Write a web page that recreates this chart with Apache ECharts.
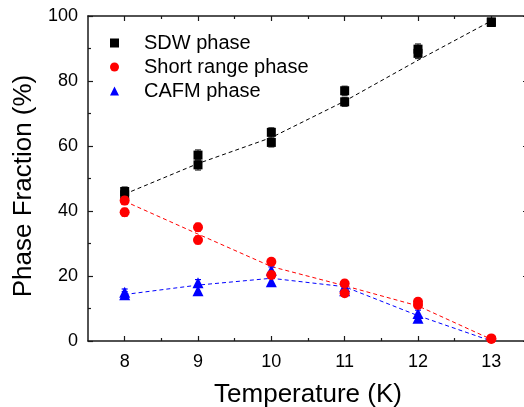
<!DOCTYPE html>
<html>
<head>
<meta charset="utf-8">
<script src="https://cdn.jsdelivr.net/npm/echarts@6/dist/echarts.min.js"></script>
<style>
html,body{margin:0;padding:0;background:#fff;}
#chart{width:524px;height:407px;}
</style>
</head>
<body>
<div id="chart"></div>
<script>
// ---- data ----
var temps = [8, 9, 10, 11, 12, 13];
var xTickLabels = [8, 9, 10, 11, 12, 13];
var xMinorTicks = [8.5, 9.5, 10.5, 11.5, 12.5];
var yTickLabels = [0, 20, 40, 60, 80, 100];

// two measurements per temperature
var sdwA  = [46.0, 57.2, 64.2, 77.0, 89.8, 98.2];
var sdwB  = [45.0, 54.2, 61.1, 73.6, 88.5, 98.0];
var srA   = [43.2, 35.0, 24.4, 17.7, 12.1, 0.8];
var srB   = [39.6, 31.1, 20.3, 14.7, 11.1, 0.6];
var cafmA = [15.0, 17.9, 21.8, 16.7, 8.5, null];
var cafmB = [14.2, 15.5, 18.2, 15.5, 7.0, null];

// error bar half-widths
var sdwErr  = [1.4, 1.6, 1.4, 1.4, 1.6, 0.8];
var srErr   = [1.2, 1.2, 1.0, 1.0, 1.0, 0.5];
var cafmErr = [1.0, 1.0, 1.0, 1.0, 1.0, 0.5];

// dashed guide lines
var sdwFit  = [45.2, 54.6, 62.6, 73.8, 86.4, 98.5];
var srFit   = [43.0, 32.9, 22.9, 17.0, 10.8, 0.5];
var cafmFit = [14.3, 17.2, 19.3, 16.7, 7.8, 0.0];

var names = ['SDW phase', 'Short range phase', 'CAFM phase'];

// ---- helpers building library data ----
function pts(a, b) {
  var out = [];
  for (var i = 0; i < temps.length; i++) {
    if (a[i] != null) out.push([temps[i], a[i]]);
    if (b[i] != null) out.push([temps[i], b[i]]);
  }
  return out;
}
function errs(a, b, e) {
  var out = [];
  for (var i = 0; i < temps.length; i++) {
    if (a[i] != null) out.push([temps[i], a[i] - e[i], a[i] + e[i]]);
    if (b[i] != null) out.push([temps[i], b[i] - e[i], b[i] + e[i]]);
  }
  return out;
}
function line(f) {
  return temps.map(function (t, i) { return [t, f[i]]; });
}
function errorBar(params, api) {
  var x = api.value(0), lo = api.value(1), hi = api.value(2);
  var p1 = api.coord([x, lo]), p2 = api.coord([x, hi]);
  var cw = 3;
  var st = { stroke: api.visual('color'), lineWidth: 1.2 };
  return {
    type: 'group',
    children: [
      { type: 'line', shape: { x1: p1[0], y1: p1[1], x2: p2[0], y2: p2[1] }, style: st },
      { type: 'line', shape: { x1: p1[0] - cw, y1: p1[1], x2: p1[0] + cw, y2: p1[1] }, style: st },
      { type: 'line', shape: { x1: p2[0] - cw, y1: p2[1], x2: p2[0] + cw, y2: p2[1] }, style: st }
    ]
  };
}

var FONT = '"Liberation Sans", Arial, sans-serif';
var AX = '#1a1a1a';

var baseX = {
  type: 'value', min: 7.5, max: 13.5, gridIndex: 0,
  splitLine: { show: false }
};
var baseY = {
  type: 'value', min: 0, max: 100, interval: 20, gridIndex: 0,
  splitLine: { show: false }
};

var chart = echarts.init(document.getElementById('chart'), null, { renderer: 'canvas' });
chart.setOption({
  animation: false,
  backgroundColor: '#fff',
  textStyle: { fontFamily: FONT },
  grid: { left: 88, top: 16, width: 440, height: 325, containLabel: false, outerBoundsMode: 'none' },
  legend: {
    data: names,
    orient: 'vertical',
    left: 110, top: 33, padding: 0,
    itemWidth: 9, itemHeight: 9, itemGap: 4,
    textStyle: { fontSize: 20, lineHeight: 20, color: '#000', fontFamily: FONT, padding: [0, 0, 0, 20] },
    selectedMode: false
  },
  xAxis: [
    Object.assign({}, baseX, {
      position: 'bottom',
      name: 'Temperature (K)', nameLocation: 'middle', nameGap: 41,
      nameTextStyle: { fontSize: 26, color: '#000', fontFamily: FONT },
      axisLine: { show: true, lineStyle: { color: AX, width: 1.5 } },
      axisTick: { show: true, inside: true, length: 5, customValues: xTickLabels, lineStyle: { color: AX, width: 1.2 } },
      axisLabel: { show: true, customValues: xTickLabels, fontSize: 18, color: '#000', margin: 12, fontFamily: FONT }
    }),
    Object.assign({}, baseX, {
      position: 'bottom',
      axisLine: { show: false },
      axisTick: { show: true, inside: true, length: 3, customValues: xMinorTicks, lineStyle: { color: AX, width: 1.2 } },
      axisLabel: { show: false }
    }),
    Object.assign({}, baseX, {
      position: 'top',
      axisLine: { show: true, lineStyle: { color: AX, width: 1.5 } },
      axisTick: { show: true, inside: true, length: 5, customValues: xTickLabels, lineStyle: { color: AX, width: 1.2 } },
      axisLabel: { show: false }
    }),
    Object.assign({}, baseX, {
      position: 'top',
      axisLine: { show: false },
      axisTick: { show: true, inside: true, length: 3, customValues: xMinorTicks, lineStyle: { color: AX, width: 1.2 } },
      axisLabel: { show: false }
    })
  ],
  yAxis: [
    Object.assign({}, baseY, {
      position: 'left',
      name: 'Phase Fraction (%)', nameLocation: 'middle', nameGap: 44,
      nameTextStyle: { fontSize: 26, color: '#000', fontFamily: FONT, padding: [0, 15, 0, 0] },
      axisLine: { show: true, lineStyle: { color: AX, width: 1.5 } },
      axisTick: { show: true, inside: true, length: 5, lineStyle: { color: AX, width: 1.2 } },
      minorTick: { show: true, splitNumber: 2, length: 3, lineStyle: { color: AX, width: 1.2 } },
      axisLabel: { show: true, fontSize: 18, color: '#000', margin: 10, fontFamily: FONT,
        formatter: function (v) { return yTickLabels.indexOf(v) >= 0 ? String(v) : ''; } }
    }),
    Object.assign({}, baseY, {
      position: 'right',
      axisLine: { show: true, lineStyle: { color: AX, width: 1.5 } },
      axisTick: { show: true, inside: true, length: 5, lineStyle: { color: AX, width: 1.2 } },
      minorTick: { show: true, splitNumber: 2, length: 3, lineStyle: { color: AX, width: 1.2 } },
      axisLabel: { show: false }
    })
  ],
  series: [
    { name: 'sdwFit', type: 'line', data: line(sdwFit), symbol: 'none', z: 2,
      lineStyle: { color: '#000', width: 1, type: [4, 3] } },
    { name: 'srFit', type: 'line', data: line(srFit), symbol: 'none', z: 2,
      lineStyle: { color: '#ff0000', width: 1, type: [4, 3] } },
    { name: 'cafmFit', type: 'line', data: line(cafmFit), symbol: 'none', z: 2,
      lineStyle: { color: '#0000ff', width: 1, type: [4, 3] } },

    { name: 'sdwErr', type: 'custom', renderItem: errorBar, data: errs(sdwA, sdwB, sdwErr),
      itemStyle: { color: '#333' }, z: 3, encode: { x: 0, y: [1, 2] } },
    { name: 'cafmErr', type: 'custom', renderItem: errorBar, data: errs(cafmA, cafmB, cafmErr),
      itemStyle: { color: '#0000ff' }, z: 3, encode: { x: 0, y: [1, 2] } },
    { name: 'srErr', type: 'custom', renderItem: errorBar, data: errs(srA, srB, srErr),
      itemStyle: { color: '#ff0000' }, z: 5, encode: { x: 0, y: [1, 2] } },

    { name: 'SDW phase', type: 'scatter', data: pts(sdwA, sdwB), symbol: 'rect', symbolSize: 9,
      itemStyle: { color: '#000', opacity: 1 }, z: 4 },
    { name: 'CAFM phase', type: 'scatter', data: pts(cafmA, cafmB), symbol: 'triangle', symbolSize: 11,
      itemStyle: { color: '#0000ff', opacity: 1 }, z: 4 },
    { name: 'Short range phase', type: 'scatter', data: pts(srA, srB), symbol: 'circle', symbolSize: 10,
      itemStyle: { color: '#ff0000', opacity: 1 }, z: 6 }
  ]
});
</script>
</body>
</html>
